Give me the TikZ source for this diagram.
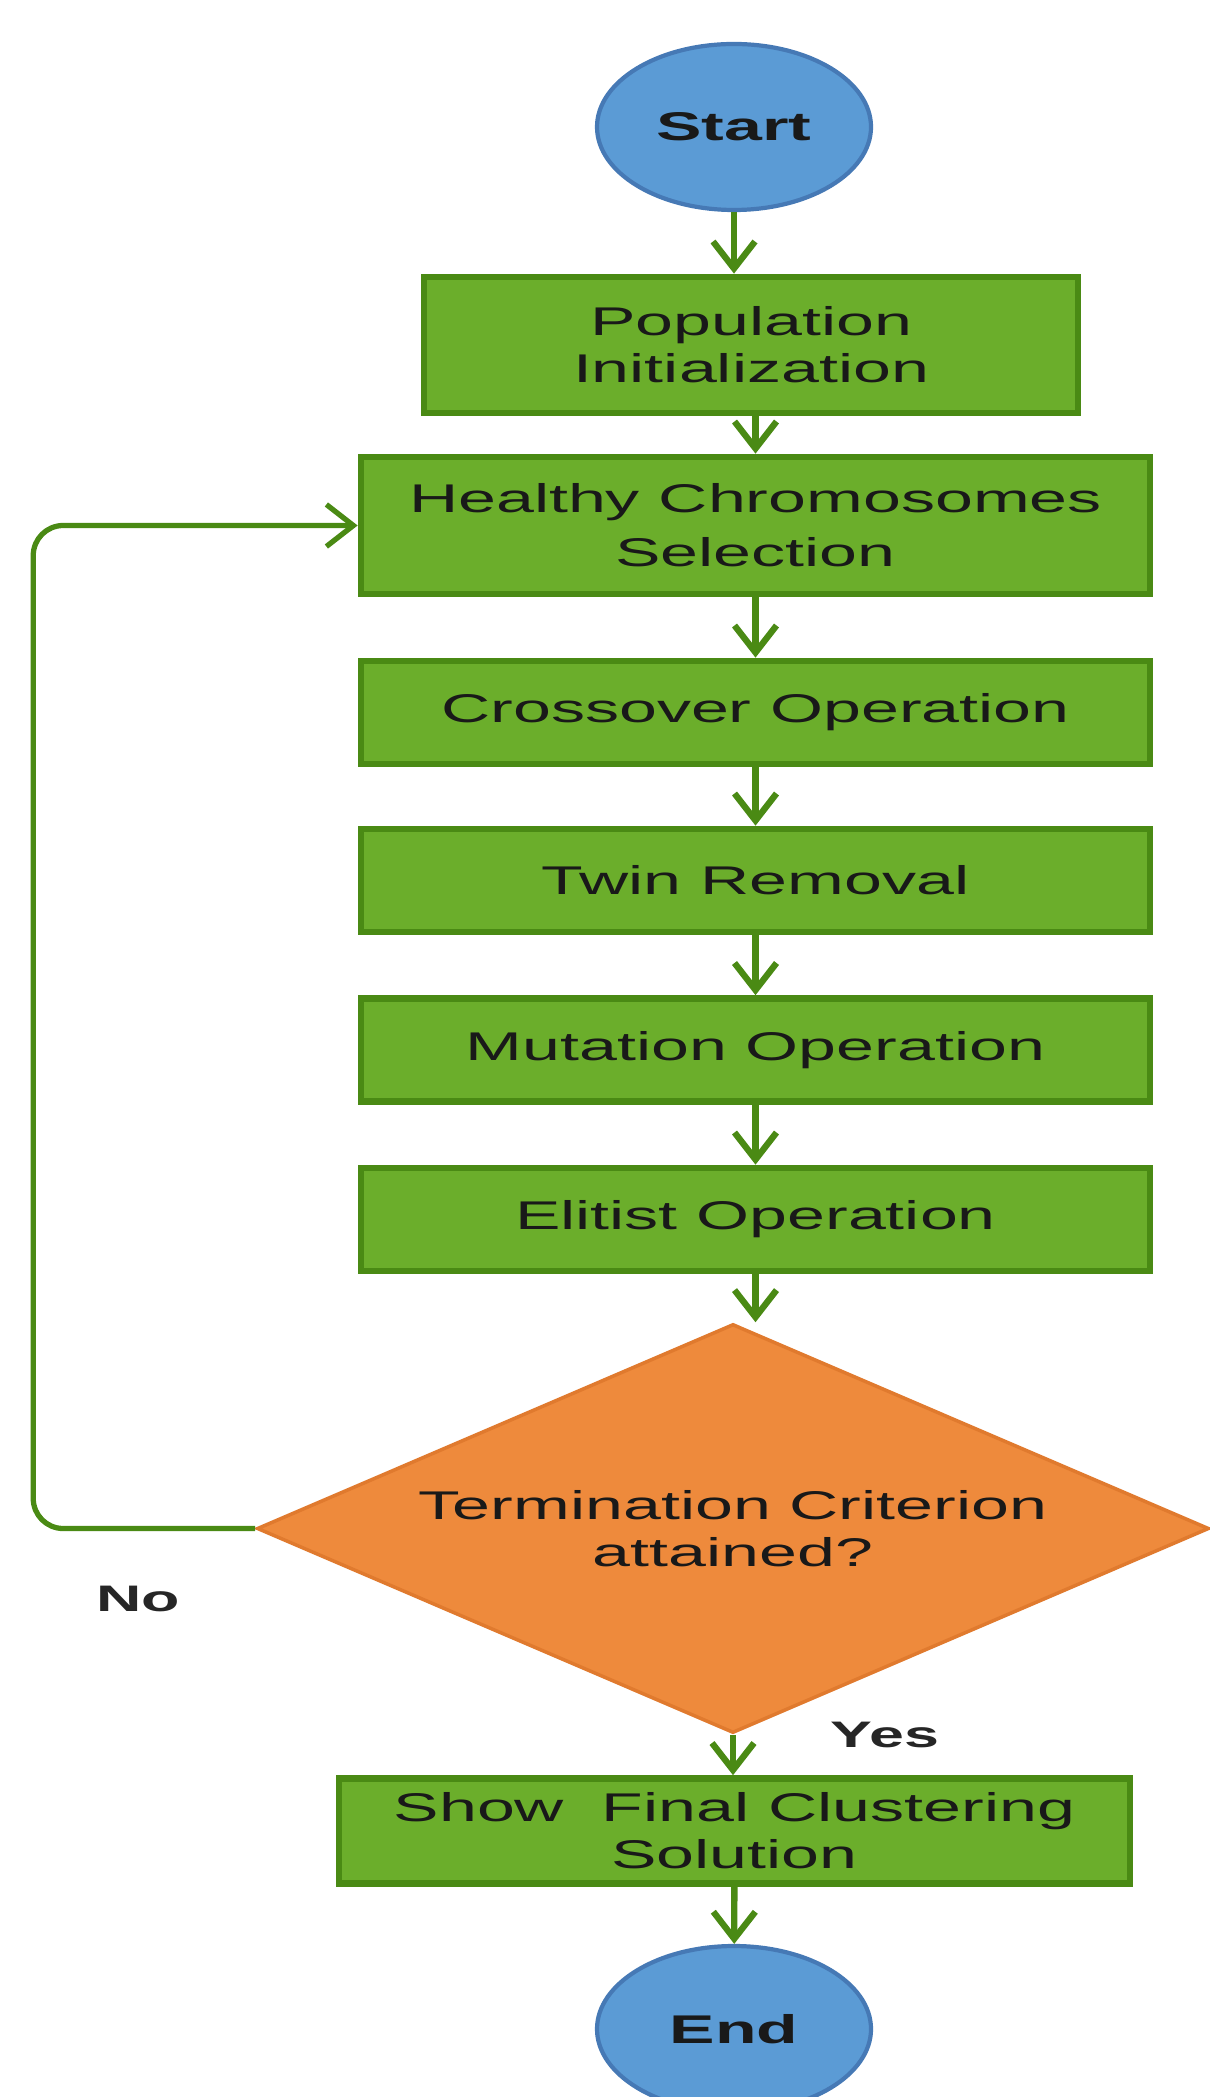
\documentclass[tikz,border=0pt]{standalone}
\usepackage{fontspec}
\setmainfont{Liberation Sans}[FakeStretch=1.7]
\usetikzlibrary{shapes.geometric,arrows.meta}
\definecolor{boxgreen}{HTML}{6BAE2B}
\definecolor{edgegreen}{HTML}{4A8A14}
\definecolor{startblue}{HTML}{5B9BD5}
\definecolor{edgeblue}{HTML}{4679B5}
\definecolor{critorange}{HTML}{EE8A3C}
\definecolor{edgeorange}{HTML}{E07A2E}

\begin{document}
\begin{tikzpicture}[
        every node/.style={font=\fontsize{11.4}{13.4}\selectfont, text=black!90},
        process/.style={draw=edgegreen, fill=boxgreen, line width=1.9pt, minimum width=7.89cm, minimum height=1.03cm, align=center, inner sep=0pt},
        terminal/.style={ellipse, draw=edgeblue, fill=startblue, line width=1.2pt, inner sep=0pt, minimum width=2.74cm, minimum height=1.66cm, font=\fontsize{11.4}{13.4}\selectfont\bfseries},
        decision/.style={diamond, draw=edgeorange, fill=critorange, line width=1pt, inner sep=0pt, minimum width=9.52cm, minimum height=4.09cm},
        flow/.style={-{Straight Barb[length=0.27cm,width=0.42cm]}, draw=edgegreen, line width=1.8pt},
        answer/.style={font=\fontsize{10.5}{12}\selectfont\bfseries, text=black!85}
    ]
        \useasboundingbox (0, 0) rectangle (12.09, -20.97);
        \node[terminal] (start) at (7.34, -1.27) {Start};
        \node[process, minimum width=6.54cm, minimum height=1.36cm] (pop) at (7.51, -3.45) {Population\\Initialization};
        \node[process, minimum height=1.37cm] (sel) at (7.555, -5.255) {Healthy Chromosomes\\[2pt]Selection};
        \node[process] (cross) at (7.555, -7.125) {Crossover Operation};
        \node[process] (twin) at (7.555, -8.805) {Twin Removal};
        \node[process] (mut) at (7.555, -10.50) {Mutation Operation};
        \node[process] (elit) at (7.555, -12.195) {Elitist Operation};
        \node[decision, label={[align=center]center:Termination Criterion\\attained?}] (crit) at (7.33, -15.285) {};
        \node[process, minimum width=7.91cm, minimum height=1.05cm] (show) at (7.345, -18.31) {Show~ Final Clustering\\Solution};
        \node[terminal] (end) at (7.34, -20.29) {End};
        \node[answer] (no) at (1.38, -15.99) {No};
        \node[answer] (yes) at (8.85, -17.35) {Yes};

        \draw[flow] (start.south) -- (start.south |- pop.north);
        \draw[flow] (sel.north |- pop.south) -- (sel.north);
        \foreach \a/\b in {sel/cross, cross/twin, twin/mut, mut/elit}
            \draw[flow] (\a) -- (\b);
        \draw[flow] (elit.south) -- (elit.south |- crit.north);
        \draw[flow] (crit.south) -- (crit.south |- show.north);
        \draw[flow] (show) -- (end);
        \draw[flow, line width=1.5pt, rounded corners=0.3cm] (crit.west) -- ++(-2.22, 0) |- (sel.west);
    \end{tikzpicture}
\end{document}
